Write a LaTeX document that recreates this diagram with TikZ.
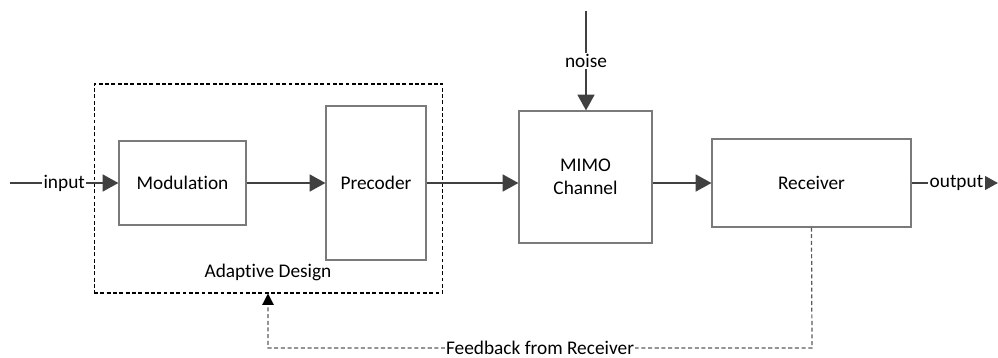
\documentclass[tikz,border=0pt]{standalone}
\usepackage{fontspec}
\setmainfont[Ligatures=NoCommon]{Carlito}
\usetikzlibrary{arrows.meta}
\definecolor{linegray}{HTML}{404040}
\definecolor{boxgray}{HTML}{7A7A7A}
\definecolor{dashgray}{HTML}{5A5A5A}

\begin{document}
\begin{tikzpicture}[x = 0.02cm, y = -0.02cm,
    font = \fontsize{11}{13}\selectfont,
    block/.style = {draw=boxgray, line width=0.6pt, align=center, inner sep=0pt},
    flow/.style = {-{Triangle[length=9pt,width=9.5pt]}, draw=linegray, line width=1.4pt},
    fback/.style = {-{Triangle[length=6.5pt,width=6.5pt,color=black]}, draw=dashgray, line width=0.7pt, dash pattern=on 2.3pt off 1.5pt},
    tag/.style = {fill=white, inner sep=0.8pt}]
    \useasboundingbox (0,0) rectangle (998,358);
    \node[draw, line width=0.6pt, dash pattern=on 2.2pt off 1.4pt, minimum width=6.98cm, minimum height=4.18cm] (adapt) at (268.5,188.5) {};
    \node (adaptlbl) at (268,272) {Adaptive Design};
    \node[block, minimum width=2.54cm, minimum height=1.68cm] (mod) at (182.5,183) {Modulation};
    \node[block, minimum width=2cm, minimum height=3.08cm] (prec) at (376,183) {Precoder};
    \node[block, minimum width=2.66cm, minimum height=2.64cm] (mimo) at (585.5,177) {MIMO\\Channel};
    \node[block, minimum width=3.98cm, minimum height=1.76cm] (rx) at (811.5,183) {Receiver};
    \coordinate (in) at (10,183);
    \coordinate (out) at (998,183);
    \coordinate (top) at (586,11);
    \coordinate (fbr) at (812,348);
    \coordinate (fbl) at (268,348);
    % main signal path
    \draw[flow] (in) -- (mod) node[midway, tag] {input};
    \draw[flow] (mod) -- (prec);
    \draw[flow] (prec.east) -- (prec.east -| mimo.west);
    \draw[flow] (mimo.east |- rx.west) -- (rx);
    \draw[flow] (rx) -- (out) node[pos=0.52, tag] {output};
    \draw[flow] (top) -- (top |- mimo.north) node[midway, tag] {noise};
    % feedback loop
    \draw[fback] (rx.south) -- (fbr) -- (fbl) node[midway, tag] {Feedback from Receiver} -- (fbl |- adapt.south);
\end{tikzpicture}
\end{document}
